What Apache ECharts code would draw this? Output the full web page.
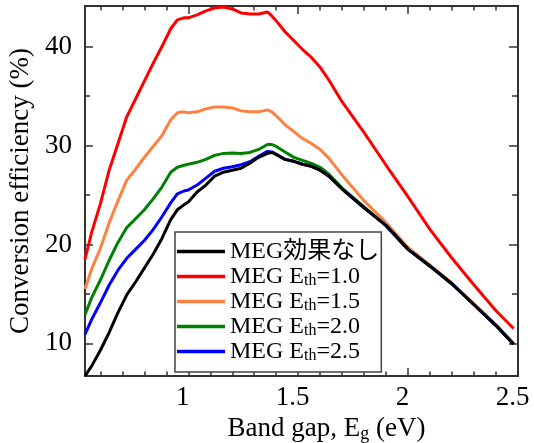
<!DOCTYPE html>
<html>
<head>
<meta charset="utf-8">
<script src="https://cdn.jsdelivr.net/npm/echarts@6/dist/echarts.min.js"></script>
<style>
  html, body { margin: 0; padding: 0; background: #fff; }
  #chart { width: 534px; height: 443px; }
</style>
</head>
<body>
<div id="chart"></div>
<script>
// Band gap (eV) sample points shared by all curves
const bandGap = [0.53, 0.56, 0.60, 0.64, 0.68, 0.72, 0.76, 0.80, 0.84, 0.88,
                 0.92, 0.95, 0.98, 1.00, 1.04, 1.08, 1.12, 1.16, 1.20, 1.24,
                 1.28, 1.32, 1.36, 1.38, 1.40, 1.44, 1.48, 1.52, 1.56, 1.60,
                 1.64, 1.70, 1.80, 1.90, 2.00, 2.10, 2.20, 2.30, 2.40, 2.48];

// Conversion efficiency (%) for each case
const noMeg = [6.7, 7.7, 9.3, 11.1, 13.1, 14.9, 16.2, 17.6, 19.0, 20.6,
               22.5, 23.5, 24.0, 24.3, 25.3, 26.0, 26.9, 27.3, 27.5, 27.7,
               28.2, 28.8, 29.2, 29.3, 29.1, 28.6, 28.4, 28.1, 27.9, 27.5,
               26.9, 25.6, 23.7, 21.9, 19.5, 17.8, 16.0, 13.9, 11.8, 9.9];
const megEth10 = [18.5, 21.2, 24.1, 27.5, 30.2, 32.9, 34.7, 36.5, 38.3, 40.0,
                  41.8, 42.7, 42.9, 42.9, 43.2, 43.6, 43.9, 44.0, 43.8, 43.4,
                  43.3, 43.3, 43.5, 43.1, 42.6, 41.5, 40.6, 39.7, 38.9, 37.9,
                  36.6, 34.4, 31.3, 28.0, 24.8, 21.5, 18.6, 15.9, 13.3, 11.5];
const megEth15 = [15.5, 17.5, 19.6, 22.2, 24.4, 26.5, 27.6, 28.8, 29.9, 31.0,
                  32.6, 33.3, 33.4, 33.3, 33.4, 33.7, 33.9, 33.9, 33.8, 33.5,
                  33.4, 33.4, 33.6, 33.4, 33.0, 32.1, 31.4, 30.7, 30.2, 29.6,
                  28.7, 27.0, 24.4, 22.2, 19.7, 17.9, 16.1, 14.0, 11.9, 10.0];
const megEth20 = [12.9, 14.6, 16.4, 18.4, 20.2, 21.7, 22.6, 23.5, 24.6, 25.8,
                  27.3, 27.8, 28.0, 28.1, 28.3, 28.6, 29.0, 29.2, 29.25, 29.2,
                  29.3, 29.6, 30.1, 30.1, 29.9, 29.35, 28.8, 28.5, 28.2, 27.8,
                  27.1, 25.7, 23.8, 21.9, 19.5, 17.8, 16.0, 13.9, 11.8, 9.9];
const megEth25 = [10.9, 12.4, 14.1, 15.9, 17.4, 18.6, 19.5, 20.4, 21.5, 22.8,
                  24.2, 25.1, 25.4, 25.5, 26.0, 26.7, 27.4, 27.7, 27.85, 28.05,
                  28.36, 28.9, 29.4, 29.35, 29.1, 28.6, 28.4, 28.1, 27.9, 27.5,
                  26.9, 25.6, 23.7, 21.9, 19.5, 17.8, 16.0, 13.9, 11.8, 9.9];

const seriesNames = ['MEG効果なし', 'MEG Eth=1.0', 'MEG Eth=1.5', 'MEG Eth=2.0', 'MEG Eth=2.5'];

// Axis ticks
const xMajorTicks = [1, 1.5, 2, 2.5];
const xMinorTicks = [0.6, 0.7, 0.8, 0.9, 1.1, 1.2, 1.3, 1.4, 1.6, 1.7, 1.8, 1.9, 2.1, 2.2, 2.3, 2.4];
const yMajorTicks = [10, 20, 30, 40];
const yMinorTicks = [15, 25, 35];

const X_MIN = 0.53, X_MAX = 2.5;
const Y_MIN = 6.7, Y_MAX = 44.1;

const FONT = "'Liberation Serif', 'Noto Sans CJK JP', serif";
const FRAME = '#333';

// value axis that only draws its line and inward ticks at the given values
function tickAxis(range, position, ticks, length, extra) {
  return Object.assign({
    type: 'value',
    position: position,
    min: range[0],
    max: range[1],
    splitLine: { show: false },
    axisLine: { show: true, onZero: false, lineStyle: { color: FRAME, width: 2 } },
    axisTick: { show: true, inside: true, length: length, customValues: ticks,
                lineStyle: { color: FRAME, width: 1.5 } },
    axisLabel: { show: false }
  }, extra || {});
}

const xLabelStyle = {
  show: true, customValues: xMajorTicks, margin: 8,
  fontFamily: FONT, fontSize: 27, color: '#000', padding: [0, 11, 0, 0]
};
const yLabelStyle = {
  show: true, customValues: yMajorTicks, margin: 13,
  fontFamily: FONT, fontSize: 27, color: '#000'
};

function line(name, values, color) {
  return {
    name: name,
    type: 'line',
    xAxisIndex: 0,
    yAxisIndex: 0,
    symbol: 'none',
    showSymbol: false,
    smooth: false,
    lineStyle: { color: color, width: 3 },
    itemStyle: { color: color },
    data: bandGap.map((x, i) => [x, values[i]])
  };
}

const chart = echarts.init(document.getElementById('chart'), null, { renderer: 'canvas' });

chart.setOption({
  animation: false,
  backgroundColor: '#fff',
  grid: { left: 85, right: 16, top: 6, bottom: 67, containLabel: false, outerBoundsMode: 'none' },
  xAxis: [
    tickAxis([X_MIN, X_MAX], 'bottom', xMajorTicks, 8, {
      axisLabel: xLabelStyle,
      name: 'Band gap, E{sub|g} (eV)',
      nameLocation: 'middle',
      nameGap: 34,
      nameTextStyle: {
        fontFamily: FONT, fontSize: 27, color: '#000', padding: [0, 0, 0, 50],
        rich: { sub: { fontFamily: FONT, fontSize: 18, lineHeight: 12, verticalAlign: 'bottom', color: '#000' } }
      }
    }),
    tickAxis([X_MIN, X_MAX], 'bottom', xMinorTicks, 4.5),
    tickAxis([X_MIN, X_MAX], 'top', xMajorTicks, 8),
    tickAxis([X_MIN, X_MAX], 'top', xMinorTicks, 4.5)
  ],
  yAxis: [
    tickAxis([Y_MIN, Y_MAX], 'left', yMajorTicks, 8, {
      axisLabel: yLabelStyle,
      name: 'Conversion efficiency (%)',
      nameLocation: 'middle',
      nameGap: 47,
      nameTextStyle: { fontFamily: FONT, fontSize: 27, color: '#000' }
    }),
    tickAxis([Y_MIN, Y_MAX], 'left', yMinorTicks, 5),
    tickAxis([Y_MIN, Y_MAX], 'right', yMajorTicks, 9),
    tickAxis([Y_MIN, Y_MAX], 'right', yMinorTicks, 6)
  ],
  legend: {
    orient: 'vertical',
    left: 175,
    top: 232,
    data: seriesNames.map(n => ({ name: n, icon: 'rect' })),
    itemWidth: 48,
    itemHeight: 3.5,
    itemGap: 0,
    padding: [7, 2, 8, 2],
    backgroundColor: '#fff',
    borderColor: '#444',
    borderWidth: 1.5,
    borderRadius: 0,
    selectedMode: false,
    formatter: name => name.replace('Eth', 'E{sub|th}'),
    textStyle: {
      fontFamily: FONT, fontSize: 24, color: '#000', lineHeight: 25,
      rich: { sub: { fontFamily: FONT, fontSize: 16, lineHeight: 10, verticalAlign: 'bottom', color: '#000' } }
    }
  },
  // drawn back to front: the no-MEG curve sits on top
  series: [
    line(seriesNames[1], megEth10, '#ff0000'),
    line(seriesNames[2], megEth15, '#ff8040'),
    line(seriesNames[3], megEth20, '#008000'),
    line(seriesNames[4], megEth25, '#0000ff'),
    line(seriesNames[0], noMeg, '#000000')
  ]
});
</script>
</body>
</html>
